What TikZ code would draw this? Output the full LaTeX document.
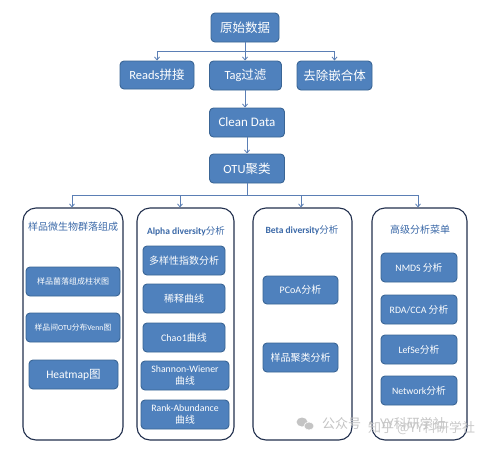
\documentclass[tikz,border=0pt]{standalone}
\usepackage{fontspec}
\setmainfont{Carlito}
\newfontfamily\cjk{Noto Sans CJK SC}
\newcommand\zh[1]{{\cjk #1}}
\usetikzlibrary{arrows.meta}
\definecolor{boxfill}{HTML}{4F81BD}
\definecolor{boxline}{HTML}{3A6595}
\definecolor{panelline}{HTML}{22304E}
\definecolor{conn}{HTML}{5B7FB5}
\definecolor{titleblue}{HTML}{3B69A8}
\definecolor{wmark}{HTML}{C4C4C4}
\tikzset{
  box/.style={draw=boxline, line width=0.9pt, fill=boxfill, rounded corners=4pt,
    text=white, inner sep=0pt, align=center, minimum height=29pt},
  panel/.style={draw=panelline, line width=1.1pt, rounded corners=13pt,
    inner sep=0pt, minimum width=#1, minimum height=232pt},
  conline/.style={draw=conn, line width=0.8pt},
  arr/.style={conline, -{Straight Barb[length=3pt,width=5pt]}},
  ptitle/.style={text=titleblue, inner sep=0pt, font=\fontsize{9.5}{11}\selectfont},
}
\begin{document}
\begin{tikzpicture}[x=1pt,y=-1pt]
\useasboundingbox (0,0) rectangle (500,450);
\fill[white] (0,0) rectangle (500,450);

% top chain
\node[box, minimum width=68pt, font=\fontsize{12.5}{15}\selectfont] (raw) at (245,27.5) {\zh{原始数据}};
\node[box, minimum width=74pt, minimum height=28pt, font=\fontsize{12.5}{15}\selectfont] (reads) at (157,75) {Reads\zh{拼接}};
\node[box, minimum width=72pt, font=\fontsize{12.5}{15}\selectfont] (tag) at (245.5,75.5) {Tag\zh{过滤}};
\node[box, minimum width=75pt, font=\fontsize{12.5}{15}\selectfont] (chim) at (334.5,75.5) {\zh{去除嵌合体}};
\node[box, minimum width=75pt, font=\fontsize{13}{15}\selectfont] (clean) at (247,122.5) {Clean Data};
\node[box, minimum width=75pt, font=\fontsize{12.5}{15}\selectfont] (otu) at (247,168.5) {OTU\zh{聚类}};

\coordinate (s1) at (245,51);
\coordinate (s1l) at (157,51);
\coordinate (s1r) at (334.5,51);
\draw[conline] (raw.south) -- (s1);
\draw[conline] (s1l) -- (s1r);
\draw[arr] (s1l) -- (reads.north);
\draw[arr] (s1) -- (s1 |- tag.north);
\draw[arr] (s1r) -- (chim.north);
\draw[arr] (tag.south -| 245,0) -- (clean.north -| 245,0);
\draw[arr] (clean.south) -- (otu.north);

% panels
\node[panel=100pt] (p1) at (73,324) {};
\node[panel=97pt] (p2) at (185.5,324) {};
\node[panel=99pt] (p3) at (302.5,324) {};
\node[panel=95pt] (p4) at (419.5,324) {};

\coordinate (s2) at (247,195);
\coordinate (b1) at (72,195);
\coordinate (b2) at (180,195);
\coordinate (b3) at (301,195);
\coordinate (b4) at (418,195);
\draw[conline] (otu.south) -- (s2);
\draw[conline] (b1) -- (b4);
\draw[arr] (b1) -- (b1 |- p1.north);
\draw[arr] (b2) -- (b2 |- p2.north);
\draw[arr] (b3) -- (b3 |- p3.north);
\draw[arr] (b4) -- (b4 |- p4.north);

% titles
\node[ptitle, font=\fontsize{10}{12}\selectfont] (t1) at (73,227) {\zh{样品微生物群落组成}};
\node[ptitle, font=\fontsize{9.5}{11}\selectfont] (t2) at (186,231) {\textbf{Alpha diversity}\zh{分析}};
\node[ptitle, font=\fontsize{9.5}{11}\selectfont] (t3) at (302,230) {\textbf{Beta diversity}\zh{分析}};
\node[ptitle, font=\fontsize{10}{12}\selectfont] (t4) at (420,230) {\zh{高级分析菜单}};

% panel 1
\node[box, minimum width=94pt, font=\fontsize{8}{9}\selectfont] (a1) at (73,281.5) {\zh{样品菌落组成柱状图}};
\node[box, minimum width=94pt, font=\fontsize{7.8}{9}\selectfont] (a2) at (73,327.5) {\zh{样品间}OTU\zh{分布}Venn\zh{图}};
\node[box, minimum width=89pt, font=\fontsize{11.5}{13}\selectfont] (a3) at (73.5,374.5) {Heatmap\zh{图}};

% panel 2
\node[box, minimum width=82pt, font=\fontsize{10}{12}\selectfont] (c1) at (184,260.5) {\zh{多样性指数分析}};
\node[box, minimum width=82pt, font=\fontsize{10}{12}\selectfont] (c2) at (184,298.5) {\zh{稀释曲线}};
\node[box, minimum width=82pt, font=\fontsize{10}{12}\selectfont] (c3) at (184,337.5) {Chao1\zh{曲线}};
\node[box, minimum width=88pt, font=\fontsize{9.8}{12}\selectfont] (c4) at (185,375.5) {Shannon-Wiener\\\zh{曲线}};
\node[box, minimum width=88pt, font=\fontsize{9.8}{12}\selectfont] (c5) at (185,414.5) {Rank-Abundance\\\zh{曲线}};

% panel 3
\node[box, minimum width=75pt, minimum height=28pt, font=\fontsize{10}{12}\selectfont] (d1) at (300.5,290) {PCoA\zh{分析}};
\node[box, minimum width=75pt, font=\fontsize{10}{12}\selectfont] (d2) at (300.5,357.5) {\zh{样品聚类分析}};

% panel 4
\node[box, minimum width=76pt, font=\fontsize{9.8}{11}\selectfont] (e1) at (419,267.5) {NMDS \zh{分析}};
\node[box, minimum width=76pt, font=\fontsize{9.8}{11}\selectfont] (e2) at (419,309.5) {RDA/CCA \zh{分析}};
\node[box, minimum width=76pt, font=\fontsize{9.8}{11}\selectfont] (e3) at (419,349.5) {LefSe\zh{分析}};
\node[box, minimum width=76pt, font=\fontsize{9.8}{11}\selectfont] (e4) at (419,390.5) {Network\zh{分析}};

% watermark
\fill[wmark] (302,422) ellipse (5.5pt and 4.5pt);
\fill[wmark, draw=white, line width=0.6pt] (309,426) ellipse (5pt and 4pt);
\node[text=wmark, anchor=west, inner sep=0pt, font=\fontsize{13}{15}\selectfont] (w1) at (322,424) {\zh{公众号 · YY科研学社}};
\node[text=wmark, anchor=west, inner sep=0pt, opacity=0.9, font=\fontsize{13}{15}\selectfont] (w2) at (368,428) {\zh{知乎 @YY科研学社}};
\end{tikzpicture}
\end{document}
